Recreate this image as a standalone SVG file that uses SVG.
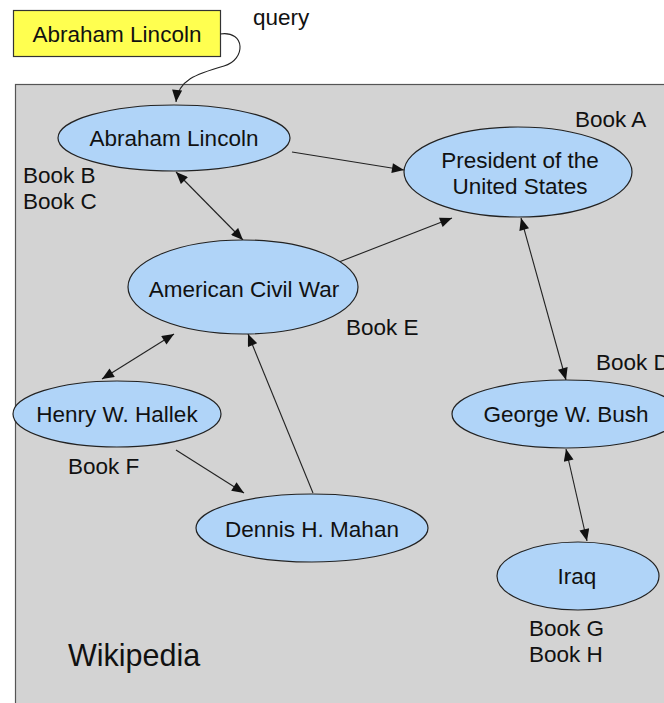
<svg xmlns="http://www.w3.org/2000/svg" width="664" height="703" viewBox="0 0 664 703">
<defs>
<style>
.t{font-family:"Liberation Sans",Arial,Helvetica,sans-serif;font-size:22.5px;fill:#111;}
.c{text-anchor:middle;}
.n{fill:#b0d4f8;stroke:#222;stroke-width:1.2;}
.e{fill:none;stroke:#222;stroke-width:1.1;}
</style>
<marker id="ah" viewBox="0 0 12 10" refX="12" refY="5" markerWidth="13" markerHeight="10" markerUnits="userSpaceOnUse" orient="auto-start-reverse">
<path d="M0,0 L12,5 L0,10 Z" fill="#111"/>
</marker>
</defs>
<rect x="0" y="0" width="664" height="703" fill="#fff"/>
<rect id="wikipedia" x="15.5" y="84.5" width="700" height="700" fill="#d3d3d3" stroke="#555" stroke-width="1.2"/>
<g id="query">
<rect x="13.5" y="10.5" width="207" height="46" fill="#ffff50" stroke="#333" stroke-width="1.2"/>
<text class="t c" x="117" y="42">Abraham Lincoln</text>
</g>
<text class="t" x="253" y="25">query</text>
<g id="connectors">
<path class="e" d="M220,34 C246,30 246,60 224,66 C196,74 178,80 176,102" marker-end="url(#ah)"/>
<line class="e" x1="292" y1="152" x2="404" y2="170" marker-end="url(#ah)"/>
<line class="e" x1="176" y1="172" x2="243" y2="240" marker-start="url(#ah)" marker-end="url(#ah)"/>
<line class="e" x1="339" y1="262" x2="452" y2="218" marker-end="url(#ah)"/>
<line class="e" x1="521" y1="218" x2="566" y2="380" marker-start="url(#ah)" marker-end="url(#ah)"/>
<line class="e" x1="174" y1="334" x2="102" y2="379" marker-start="url(#ah)" marker-end="url(#ah)"/>
<line class="e" x1="176" y1="450" x2="244" y2="493" marker-end="url(#ah)"/>
<line class="e" x1="313" y1="493" x2="248" y2="334" marker-end="url(#ah)"/>
<line class="e" x1="566" y1="449" x2="587" y2="541" marker-start="url(#ah)" marker-end="url(#ah)"/>
</g>
<g id="lincoln">
<ellipse class="n" cx="174" cy="138" rx="116" ry="33"/>
<text class="t c" x="174" y="146">Abraham Lincoln</text>
</g>
<g id="president">
<ellipse class="n" cx="518" cy="172" rx="114" ry="45"/>
<text class="t c" x="520" y="168">President of the</text>
<text class="t c" x="520" y="194">United States</text>
</g>
<g id="civilwar">
<ellipse class="n" cx="243" cy="287" rx="115" ry="47"/>
<text class="t c" x="244" y="297">American Civil War</text>
</g>
<g id="hallek">
<ellipse class="n" cx="117" cy="414" rx="104" ry="33"/>
<text class="t c" x="117" y="422">Henry W. Hallek</text>
</g>
<g id="bush">
<ellipse class="n" cx="566" cy="414" rx="114" ry="34"/>
<text class="t c" x="566" y="422">George W. Bush</text>
</g>
<g id="mahan">
<ellipse class="n" cx="312" cy="528" rx="116" ry="34"/>
<text class="t c" x="312" y="537">Dennis H. Mahan</text>
</g>
<g id="iraq">
<ellipse class="n" cx="578" cy="576" rx="81" ry="34"/>
<text class="t c" x="577" y="584">Iraq</text>
</g>
<text class="t" x="575" y="127">Book A</text>
<text class="t" x="23" y="183">Book B</text>
<text class="t" x="23" y="209">Book C</text>
<text class="t" x="596" y="370">Book D</text>
<text class="t" x="346" y="335">Book E</text>
<text class="t" x="68" y="474">Book F</text>
<text class="t" x="529" y="636">Book G</text>
<text class="t" x="529" y="662">Book H</text>
<text class="t" x="68" y="666" style="font-size:30.5px">Wikipedia</text>
</svg>
